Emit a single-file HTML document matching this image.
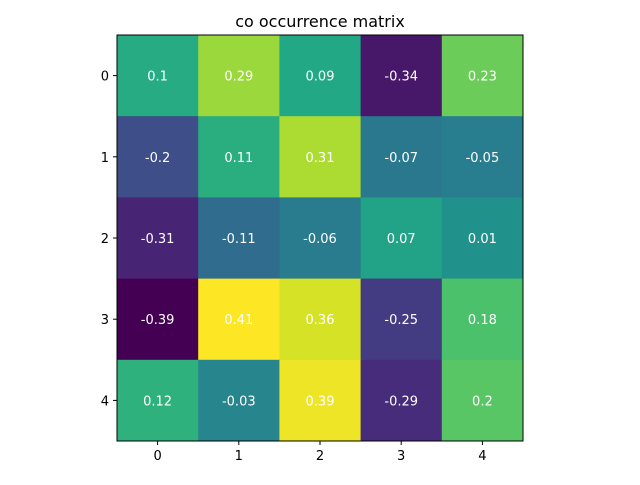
<!DOCTYPE html>
<html><head><meta charset="utf-8"><style>
body{margin:0;background:#fff;}
svg text{font-family:"DejaVu Sans","Liberation Sans",sans-serif;}
</style></head><body>
<svg id="chart" width="640" height="480" viewBox="0 0 640 480" xmlns="http://www.w3.org/2000/svg">
<rect width="640" height="480" fill="#fff"/>
<text x="320" y="27" text-anchor="middle" font-size="16" fill="#000">co occurrence matrix</text>
<g id="cells"></g>
<g id="axes"></g>
</svg>
<script>
const rowLabels = ["0","1","2","3","4"];
const colLabels = ["0","1","2","3","4"];
const values = [
  [0.1, 0.29, 0.09, -0.34, 0.23],
  [-0.2, 0.11, 0.31, -0.07, -0.05],
  [-0.31, -0.11, -0.06, 0.07, 0.01],
  [-0.39, 0.41, 0.36, -0.25, 0.18],
  [0.12, -0.03, 0.39, -0.29, 0.2]
];
const stops = ["#440154","#482475","#414487","#355f8d","#2a788e","#21918c","#22a884","#44bf70","#7ad151","#bddf26","#fde725"];
const L=117, T=35, W=406, H=406;
const NS="http://www.w3.org/2000/svg";
const flat=values.flat();
const vmin=Math.min(...flat), vmax=Math.max(...flat);
function hex(h){return [1,3,5].map(i=>parseInt(h.substr(i,2),16));}
function viridis(t){t=Math.max(0,Math.min(1,t));const p=t*10,i=Math.min(9,Math.floor(p)),f=p-i;const a=hex(stops[i]),b=hex(stops[i+1]);return "rgb("+a.map((v,k)=>Math.round(v+(b[k]-v)*f)).join(",")+")";}
const cw=W/colLabels.length, ch=H/rowLabels.length;
const xPos=j=>L+j*cw, yPos=i=>T+i*ch;
const cells=document.getElementById('cells'), axes=document.getElementById('axes');
function mk(tag,attrs,parent){const e=document.createElementNS(NS,tag);for(const k in attrs)e.setAttribute(k,attrs[k]);parent.appendChild(e);return e;}
values.forEach((row,i)=>row.forEach((v,j)=>{
  const r=mk('rect',{x:xPos(j),y:yPos(i),width:cw+0.5,height:ch+0.5,fill:viridis((v-vmin)/(vmax-vmin))},cells);
  
  
  const t=mk('text',{x:xPos(j)+cw/2,y:yPos(i)+ch/2+5,'text-anchor':'middle','font-size':'13',fill:'#fff'},cells);
  t.textContent=String(v);
  
  
}));
const frame=mk('rect',{x:L,y:T,width:W,height:H,fill:'none',stroke:'#000','stroke-width':1},axes);


colLabels.forEach((c,j)=>{
  const x=xPos(j)+cw/2;
  mk('line',{x1:x,x2:x,y1:T+H,y2:T+H+4,stroke:'#000'},axes);
  const t=mk('text',{x:x,y:T+H+19,'text-anchor':'middle','font-size':'13',fill:'#000'},axes);
  t.textContent=c;
  
  
});
rowLabels.forEach((r,i)=>{
  const y=yPos(i)+ch/2;
  mk('line',{x1:L-4,x2:L,y1:y,y2:y,stroke:'#000'},axes);
  const t=mk('text',{x:L-8,y:y+5,'text-anchor':'end','font-size':'13',fill:'#000'},axes);
  t.textContent=r;
  
  
});
</script>
</body></html>
